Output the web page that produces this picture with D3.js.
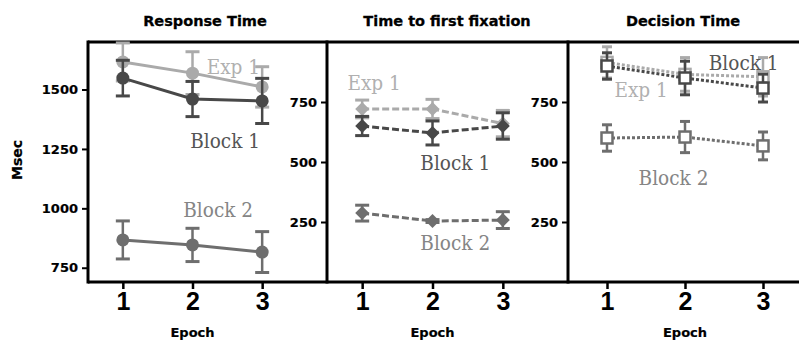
<!DOCTYPE html>
<html>
<head>
<meta charset="utf-8">
<script src="https://cdn.jsdelivr.net/npm/d3@7"></script>
<style>
  body { margin: 0; background: #fff; }
  svg { display: block; }
  .title { font-family: "DejaVu Sans", sans-serif; font-weight: bold; font-size: 14.5px; stroke: #000; stroke-width: 0.3px; }
  .ytick { font-family: "DejaVu Sans", sans-serif; font-weight: bold; font-size: 13px; stroke: #000; stroke-width: 0.2px; }
  .xtick { font-family: "Liberation Sans", Arial, sans-serif; font-weight: bold; font-size: 25px; }
  .xlabel { font-family: "DejaVu Sans", sans-serif; font-weight: bold; font-size: 13px; stroke: #000; stroke-width: 0.2px; }
  .series-label { font-family: "DejaVu Serif", serif; font-size: 18.5px; }
</style>
</head>
<body>
<div id="chart"></div>
<script>
const W = 799, H = 341;

const epochs = [1, 2, 3];
const titles = ["Response Time", "Time to first fixation", "Decision Time"];
const seriesNames = ["Exp 1", "Block 1", "Block 2"];
const seriesColors = ["#aaaaaa", "#484848", "#6e6e6e"];
const labelColors = ["#b0b0b0", "#555555", "#858585"];

// Response Time (msec)
const rtExp1 = [1616, 1569, 1511];
const rtExp1Err = [80, 90, 85];
const rtBlock1 = [1548, 1460, 1452];
const rtBlock1Err = [75, 74, 95];
const rtBlock2 = [867, 846, 816];
const rtBlock2Err = [80, 70, 86];

// Time to first fixation (msec)
const tffExp1 = [721, 721, 660];
const tffExp1Err = [37, 40, 55];
const tffBlock1 = [650, 621, 650];
const tffBlock1Err = [40, 50, 55];
const tffBlock2 = [287, 254, 258];
const tffBlock2Err = [33, 6, 35];

// Decision Time (msec)
const dtExp1 = [915, 865, 855];
const dtExp1Err = [65, 70, 80];
const dtBlock1 = [900, 850, 808];
const dtBlock1Err = [55, 70, 58];
const dtBlock2 = [600, 604, 567];
const dtBlock2Err = [55, 65, 58];

const rtTicks = [750, 1000, 1250, 1500];
const msTicks = [250, 500, 750];

const panels = [
  {
    title: titles[0], left: 88, right: 297, domain: [690, 1700], ticks: rtTicks,
    marker: "circle", dash: null, titleX: 205,
    series: [[rtExp1, rtExp1Err], [rtBlock1, rtBlock1Err], [rtBlock2, rtBlock2Err]],
    // label anchor (end) in data coordinates: [epoch, value]
    labels: [[2.97, 1565], [2.97, 1255], [2.87, 965]]
  },
  {
    title: titles[1], left: 327, right: 538, domain: [0, 1000], ticks: msTicks,
    marker: "diamond", dash: "7,3", titleX: 447,
    series: [[tffExp1, tffExp1Err], [tffBlock1, tffBlock1Err], [tffBlock2, tffBlock2Err]],
    labels: [[1.55, 800], [2.82, 467], [2.82, 133]]
  },
  {
    title: titles[2], left: 568, right: 802, domain: [0, 1000], ticks: msTicks,
    marker: "square", dash: "3,2", titleX: 683,
    series: [[dtExp1, dtExp1Err], [dtBlock1, dtBlock1Err], [dtBlock2, dtBlock2Err]],
    labels: [[1.78, 771], [3.2, 883], [2.3, 404]]
  }
];

const plotTop = 42, plotBottom = 282;

const svg = d3.select("#chart").append("svg")
  .attr("width", W)
  .attr("height", H);

// "Msec" axis label
svg.append("text")
  .attr("class", "xlabel")
  .attr("transform", "translate(22,160) rotate(-90)")
  .attr("text-anchor", "middle")
  .style("font-size", "14px")
  .text("Msec");

panels.forEach((p, pi) => {
  const x = d3.scaleLinear().domain([0.5, 3.5]).range([p.left, p.right]);
  const y = d3.scaleLinear().domain(p.domain).range([plotBottom, plotTop]);
  const g = svg.append("g");

  // title
  g.append("text")
    .attr("class", "title")
    .attr("x", p.titleX)
    .attr("y", 26)
    .attr("text-anchor", "middle")
    .text(p.title);

  // y axis
  const yAxis = g.append("g")
    .attr("transform", `translate(${p.left},0)`)
    .call(d3.axisLeft(y).tickValues(p.ticks).tickSize(6).tickPadding(4).tickFormat(d3.format("d")));
  yAxis.select(".domain").remove();
  yAxis.selectAll(".tick line").attr("stroke", "#000").attr("stroke-width", 2);
  yAxis.selectAll(".tick text").attr("class", "ytick").attr("fill", "#000");
  yAxis.attr("font-family", null).attr("font-size", null);

  // x axis
  const xAxis = g.append("g")
    .attr("transform", `translate(0,${plotBottom})`)
    .call(d3.axisBottom(x).tickValues(epochs).tickSize(7).tickPadding(3).tickFormat(d3.format("d")));
  xAxis.select(".domain").remove();
  xAxis.selectAll(".tick line").attr("stroke", "#000").attr("stroke-width", 2.5);
  xAxis.selectAll(".tick text").attr("class", "xtick").attr("fill", "#000");
  xAxis.attr("font-family", null).attr("font-size", null);

  g.append("text")
    .attr("class", "xlabel")
    .attr("x", x(2))
    .attr("y", 337)
    .attr("text-anchor", "middle")
    .text("Epoch");

  // frame
  const nextLeft = pi < panels.length - 1 ? panels[pi + 1].left : W;
  g.append("line").attr("x1", p.left).attr("x2", nextLeft).attr("y1", plotTop).attr("y2", plotTop)
    .attr("stroke", "#000").attr("stroke-width", 3);
  g.append("line").attr("x1", p.left).attr("x2", nextLeft).attr("y1", plotBottom).attr("y2", plotBottom)
    .attr("stroke", "#000").attr("stroke-width", 3);
  g.append("line").attr("x1", p.left).attr("x2", p.left).attr("y1", plotTop - 1.5).attr("y2", plotBottom + 1.5)
    .attr("stroke", "#000").attr("stroke-width", 3);

  // series
  p.series.forEach(([vals, errs], si) => {
    const color = seriesColors[si];
    const pts = epochs.map((e, i) => ({ e, v: vals[i], err: errs[i] }));
    const sg = g.append("g");

    const line = d3.line().x(d => x(d.e)).y(d => y(d.v));
    sg.append("path")
      .datum(pts)
      .attr("d", line)
      .attr("fill", "none")
      .attr("stroke", color)
      .attr("stroke-width", 3)
      .attr("stroke-dasharray", p.dash);

    const capW = p.marker === "square" ? 5 : 7;
    const eb = sg.selectAll("g.err").data(pts).join("g").attr("class", "err");
    eb.append("line")
      .attr("x1", d => x(d.e)).attr("x2", d => x(d.e))
      .attr("y1", d => y(d.v - d.err)).attr("y2", d => y(d.v + d.err))
      .attr("stroke", color).attr("stroke-width", 2.5);
    eb.append("line")
      .attr("x1", d => x(d.e) - capW).attr("x2", d => x(d.e) + capW)
      .attr("y1", d => y(d.v + d.err)).attr("y2", d => y(d.v + d.err))
      .attr("stroke", color).attr("stroke-width", 3);
    eb.append("line")
      .attr("x1", d => x(d.e) - capW).attr("x2", d => x(d.e) + capW)
      .attr("y1", d => y(d.v - d.err)).attr("y2", d => y(d.v - d.err))
      .attr("stroke", color).attr("stroke-width", 3);

    if (p.marker === "circle") {
      sg.selectAll("circle").data(pts).join("circle")
        .attr("cx", d => x(d.e)).attr("cy", d => y(d.v)).attr("r", 6.5)
        .attr("fill", color);
    } else if (p.marker === "diamond") {
      sg.selectAll("path.m").data(pts).join("path").attr("class", "m")
        .attr("transform", d => `translate(${x(d.e)},${y(d.v)})`)
        .attr("d", "M0,-7L7,0L0,7L-7,0Z")
        .attr("fill", color);
    } else {
      sg.selectAll("rect").data(pts).join("rect")
        .attr("x", d => x(d.e) - 5.5).attr("y", d => y(d.v) - 5.5)
        .attr("width", 11).attr("height", 11)
        .attr("fill", "#fff").attr("stroke", color).attr("stroke-width", 2.5);
    }
  });

  // series labels (glyphs in the original are slightly stretched vertically)
  p.labels.forEach((l, si) => {
    g.append("text")
      .attr("class", "series-label")
      .attr("transform", `translate(${x(l[0])},${y(l[1])}) scale(1,1.15)`)
      .attr("text-anchor", "end")
      .attr("fill", labelColors[si])
      .text(seriesNames[si]);
  });
});
</script>
</body>
</html>
